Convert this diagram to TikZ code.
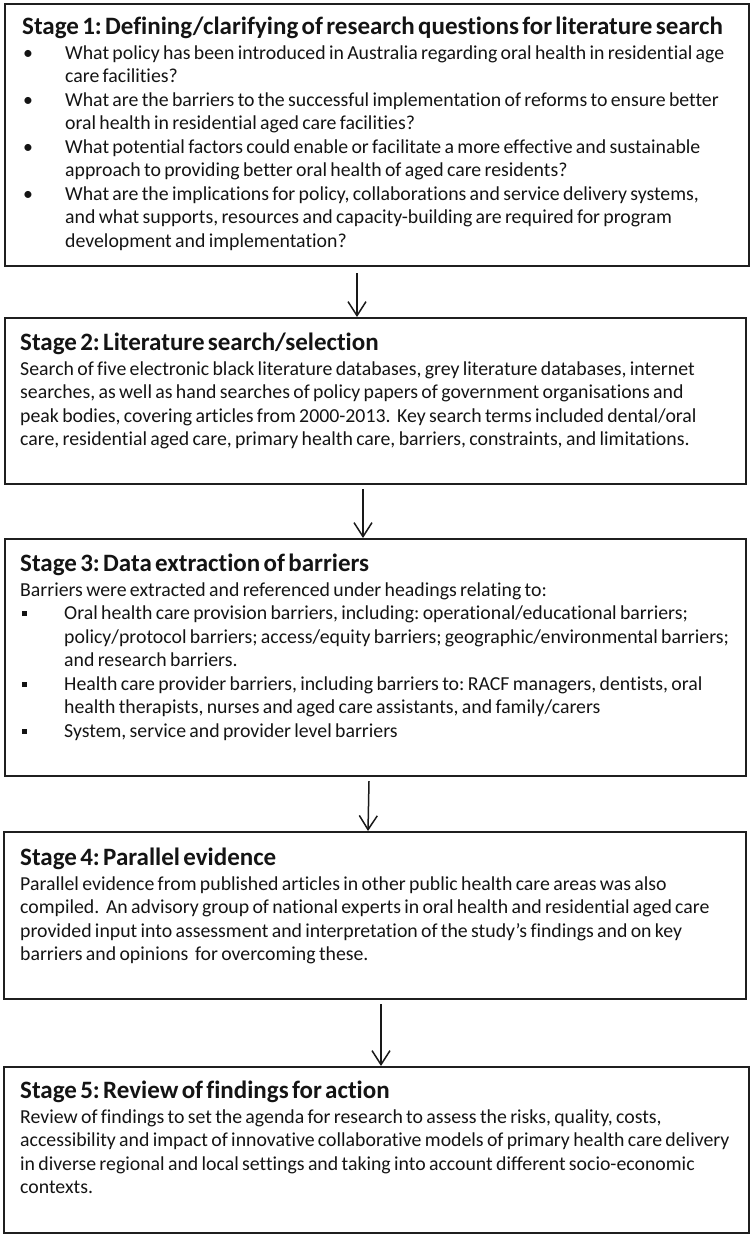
\documentclass[tikz,border=0pt]{standalone}
\usepackage{fontspec}
\setmainfont[Ligatures=NoCommon]{Carlito}
\usetikzlibrary{arrows.meta}
\newcommand\bul{\makebox[43pt][l]{\hspace{1pt}\textbullet}}
\newcommand\sqb{\makebox[44pt][l]{\hspace{2pt}\raisebox{3.5pt}{\rule{5pt}{5pt}}}}
\newcommand\hng[1]{\hspace*{#1}}
\newcommand\stagehead[1]{{\fontsize{25}{23.5}\selectfont\bfseries\rule{0pt}{19pt}#1\par}\vspace{1.5pt}}
\begin{document}
\begin{tikzpicture}[x=1pt,y=-1pt,
  stagebox/.style={draw=black!88, line width=2.2pt, rectangle, inner sep=0pt, anchor=north west},
  stagetext/.style={anchor=north west, inner sep=0pt, text width=736pt, text=black!92,
    execute at begin node={\fontsize{19.8}{23.5}\selectfont\frenchspacing\parindent=0pt\parskip=0pt\raggedright}},
  flow/.style={draw=black!90, line width=1.5pt, -{Straight Barb[length=14pt, width=18pt, line width=1.5pt]}}]
\useasboundingbox (0,0) rectangle (750,1234);

\node[stagebox, minimum width=744pt, minimum height=262pt] (box1) at (4,3) {};
\node[stagebox, minimum width=741pt, minimum height=166pt] (box2) at (4,317) {};
\node[stagebox, minimum width=741pt, minimum height=237pt] (box3) at (4,538) {};
\node[stagebox, minimum width=742pt, minimum height=167pt] (box4) at (3,831) {};
\node[stagebox, minimum width=745pt, minimum height=166pt] (box5) at (3,1066) {};

\node[stagetext] (text1) at ([xshift=18pt,yshift=-12pt]box1.north west) {%
\stagehead{Stage 1: Defining/clarifying of research questions for literature search}
\bul What policy has been introduced in Australia regarding oral health in residential age\par
\hng{43pt}care facilities?\par
\bul What are the barriers to the successful implementation of reforms to ensure better\par
\hng{43pt}oral health in residential aged care facilities?\par
\bul What potential factors could enable or facilitate a more effective and sustainable\par
\hng{43pt}approach to providing better oral health of aged care residents?\par
\bul What are the implications for policy, collaborations and service delivery systems,\par
\hng{43pt}and what supports, resources and capacity-building are required for program\par
\hng{43pt}development and implementation?\par};

\node[stagetext] (text2) at ([xshift=16pt,yshift=-14pt]box2.north west) {%
\stagehead{Stage 2: Literature search/selection}
Search of five electronic black literature databases, grey literature databases, internet\par
searches, as well as hand searches of policy papers of government organisations and\par
peak bodies, covering articles from 2000-2013.\ \ Key search terms included dental/oral\par
care, residential aged care, primary health care, barriers, constraints, and limitations.\par};

\node[stagetext] (text3) at ([xshift=16pt,yshift=-14pt]box3.north west) {%
\stagehead{Stage 3: Data extraction of barriers}
Barriers were extracted and referenced under headings relating to:\par
\sqb Oral health care provision barriers, including: operational/educational barriers;\par
\hng{44pt}policy/protocol barriers; access/equity barriers; geographic/environmental barriers;\par
\hng{44pt}and research barriers.\par
\sqb Health care provider barriers, including barriers to: RACF managers, dentists, oral\par
\hng{44pt}health therapists, nurses and aged care assistants, and family/carers\par
\sqb System, service and provider level barriers\par};

\node[stagetext] (text4) at ([xshift=17pt,yshift=-15pt]box4.north west) {%
\stagehead{Stage 4: Parallel evidence}
Parallel evidence from published articles in other public health care areas was also\par
compiled.\ \ An advisory group of national experts in oral health and residential aged care\par
provided input into assessment and interpretation of the study’s findings and on key\par
barriers and opinions\ \ for overcoming these.\par};

\node[stagetext] (text5) at ([xshift=17pt,yshift=-13pt]box5.north west) {%
\stagehead{Stage 5: Review of findings for action}
Review of findings to set the agenda for research to assess the risks, quality, costs,\par
accessibility and impact of innovative collaborative models of primary health care delivery\par
in diverse regional and local settings and taking into account different socio-economic\par
contexts.\par};

\draw[flow] ([xshift=353pt,yshift=-6pt]box1.south west) -- ([xshift=353pt]box2.north west);
\draw[flow] ([xshift=359pt,yshift=-4pt]box2.south west) -- ([xshift=359pt]box3.north west);
\draw[flow] ([xshift=365pt,yshift=-4pt]box3.south west) -- ([xshift=365pt]box4.north west);
\draw[flow] ([xshift=378pt,yshift=-4pt]box4.south west) -- ([xshift=378pt]box5.north west);
\end{tikzpicture}
\end{document}
